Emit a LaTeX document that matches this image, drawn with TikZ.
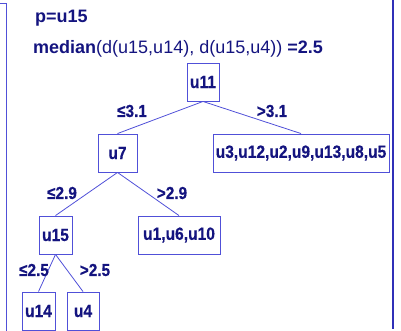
\documentclass[tikz,border=0pt]{standalone}
\usepackage{fontspec}
\setmainfont{Liberation Sans}
\newfontfamily\nodefont[FakeStretch=0.88,FakeBold=0.4]{Liberation Sans Bold}
\definecolor{navy}{HTML}{14147F}
\definecolor{boxblue}{HTML}{5050D8}
\definecolor{frameblue}{HTML}{3030B8}
\begin{document}
\begin{tikzpicture}[x=1pt,y=-1pt,
  nodebox/.style={draw=boxblue,line width=0.9pt,minimum height=38pt,inner sep=0pt,text=navy,
    font=\nodefont\fontsize{17.7}{20}\selectfont},
  edge/.style={draw=boxblue,line width=0.8pt},
  lbl/.style={text=navy,inner sep=0pt,font=\nodefont\fontsize{17.4}{20}\selectfont},
  head/.style={text=navy,inner sep=0pt,anchor=base west,font=\fontsize{18}{21}\selectfont}]
\useasboundingbox (0,0) rectangle (401,330);
\clip (0,0) rectangle (401,330);
% frame lines
\draw[boxblue,line width=1pt] (0,3.5) -- (6,3.5) -- (6,335);
\draw[frameblue,line width=1.6pt] (393,-5) -- (393,329);
% header
\node[head] (p) at (35,22) {\bfseries p=u15};
\node[head] (med) at (33,53) {\textbf{median}(d(u15,u14), d(u15,u4)) \textbf{=2.5}};
% tree nodes
\node[nodebox,minimum width=32pt] (u11) at (203,82) {u11};
\node[nodebox,minimum width=39pt] (u7) at (117.5,153) {u7};
\node[nodebox,minimum width=176pt] (r) at (301,153) {u3,u12,u2,u9,u13,u8,u5};
\node[nodebox,minimum width=33pt] (u15) at (55.5,235) {u15};
\node[nodebox,minimum width=82pt] (u1) at (179,235) {u1,u6,u10};
\node[nodebox,minimum width=33pt] (u14) at (38.5,311) {u14};
\node[nodebox,minimum width=32pt] (u4) at (83,311) {u4};
% edges
\draw[edge] (u11.south) -- (u7.north);
\draw[edge] (u11.south) -- (r.north);
\draw[edge] (u7.south) -- (u15.north);
\draw[edge] (u7.south) -- (u1.north);
\draw[edge] (u15.south) -- (u14.north);
\draw[edge] (u15.south) -- (u4.north);
% labels
\node[lbl] (l1) at (132,111) {≤3.1};
\node[lbl] (l2) at (272,111) {>3.1};
\node[lbl] (l3) at (62,193) {≤2.9};
\node[lbl] (l4) at (172,193) {>2.9};
\node[lbl] (l5) at (34,270) {≤2.5};
\node[lbl] (l6) at (95,270) {>2.5};
\end{tikzpicture}
\end{document}
